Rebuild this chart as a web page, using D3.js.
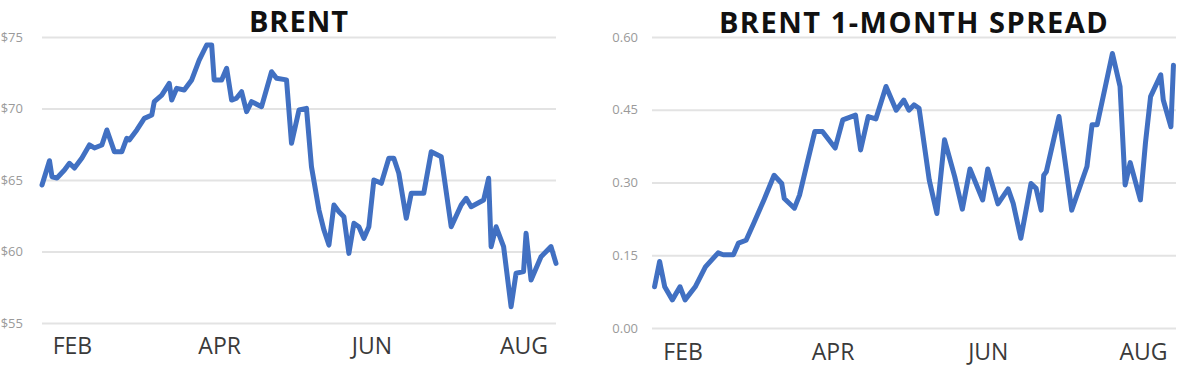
<!DOCTYPE html>
<html>
<head>
<meta charset="utf-8">
<script src="https://cdn.jsdelivr.net/npm/d3@7"></script>
<style>
  body { margin: 0; background: #fff; }
  svg { display: block; }
</style>
</head>
<body>
<div id="chart"></div>
<script>
// values, 2019 dates as "MM-DD"
const brentDates = [
  "01-20", "01-23", "01-24", "01-26", "01-29", "01-31", "02-02", "02-05", "02-08", "02-10",
  "02-13", "02-15", "02-18", "02-21", "02-23", "02-24", "02-27", "03-02", "03-05", "03-06",
  "03-09", "03-12", "03-13", "03-15", "03-18", "03-21", "03-24", "03-27", "03-29", "03-30",
  "04-02", "04-04", "04-06", "04-08", "04-10", "04-12", "04-14", "04-18", "04-22", "04-24",
  "04-28", "04-30", "05-03", "05-06", "05-08", "05-11", "05-13", "05-15", "05-17", "05-19",
  "05-21", "05-23", "05-25", "05-27", "05-29", "05-31", "06-02", "06-05", "06-08", "06-10",
  "06-12", "06-15", "06-17", "06-20", "06-22", "06-25", "06-29", "07-03", "07-07", "07-09",
  "07-11", "07-16", "07-18", "07-19", "07-21", "07-24", "07-27", "07-29", "08-01", "08-02",
  "08-04", "08-08", "08-12", "08-14",
];
const brentValues = [
  64.65, 66.35, 65.23, 65.14, 65.7, 66.17, 65.84, 66.54, 67.45, 67.24,
  67.45, 68.5, 66.98, 66.98, 67.92, 67.8, 68.5, 69.31, 69.54, 70.48,
  70.94, 71.76, 70.59, 71.41, 71.29, 72.0, 73.39, 74.44, 74.44, 72.0,
  72.0, 72.81, 70.59, 70.73, 71.17, 69.78, 70.48, 70.13, 72.57, 72.11,
  72.0, 67.57, 69.9, 70.01, 65.93, 62.9, 61.5, 60.45, 63.25, 62.78,
  62.43, 59.87, 61.97, 61.73, 60.92, 61.73, 65.0, 64.77, 66.52, 66.52,
  65.47, 62.32, 64.07, 64.07, 64.07, 66.98, 66.63, 61.73, 63.25, 63.72,
  63.13, 63.6, 65.12, 60.34, 61.73, 60.34, 56.14, 58.48, 58.59, 61.27,
  58.01, 59.64, 60.34, 59.17,
];
const brentTicks = [55, 60, 65, 70, 75];

const spreadDates = [
  "01-21", "01-23", "01-25", "01-28", "01-31", "02-02", "02-06", "02-10", "02-15", "02-17",
  "02-21", "02-23", "02-26", "03-01", "03-05", "03-09", "03-12", "03-13", "03-17", "03-19",
  "03-22", "03-25", "03-28", "04-02", "04-05", "04-10", "04-12", "04-15", "04-18", "04-22",
  "04-26", "04-29", "05-01", "05-03", "05-05", "05-09", "05-12", "05-15", "05-19", "05-22",
  "05-25", "05-30", "06-01", "06-05", "06-09", "06-11", "06-14", "06-18", "06-20", "06-22",
  "06-23", "06-24", "06-29", "07-04", "07-10", "07-12", "07-14", "07-20", "07-23", "07-25",
  "07-27", "07-31", "08-02", "08-04", "08-08", "08-09", "08-12", "08-13",
];
const spreadValues = [
  0.085, 0.137, 0.085, 0.058, 0.085, 0.058, 0.085, 0.126, 0.155, 0.151,
  0.151, 0.175, 0.181, 0.216, 0.264, 0.315, 0.298, 0.267, 0.247, 0.274,
  0.34, 0.405, 0.405, 0.371, 0.429, 0.439, 0.367, 0.436, 0.431, 0.498,
  0.449, 0.47, 0.449, 0.46, 0.453, 0.305, 0.236, 0.388, 0.312, 0.245,
  0.328, 0.264, 0.328, 0.256, 0.287, 0.257, 0.185, 0.298, 0.288, 0.243,
  0.315, 0.322, 0.436, 0.243, 0.333, 0.419, 0.419, 0.566, 0.498, 0.295,
  0.341, 0.264, 0.382, 0.477, 0.522, 0.47, 0.415, 0.542,
];
const spreadTicks = [0, 0.15, 0.3, 0.45, 0.6];

const monthTicks = ["02-01", "04-01", "06-01", "08-01"];
const xStart = "01-20";
const xEnd = "08-14";

const parseDay = d3.timeParse("%Y-%m-%d");
const day = (s) => parseDay(`2019-${s}`);

const width = 1200;
const height = 391;

const svg = d3
  .select("#chart")
  .append("svg")
  .attr("width", width)
  .attr("height", height)
  .attr("viewBox", [0, 0, width, height]);

function LineChart({
  title,
  dates,
  values,
  yTicks,
  yFormat,
  left,
  right,
  top,
  bottom,
  titleY,
  titleSpacing = 0,
  labelPad,
  monthPad,
} = {}) {
  const points = dates.map((d, i) => [day(d), values[i]]);

  const x = d3
    .scaleTime()
    .domain([day(xStart), day(xEnd)])
    .range([left, right]);

  const y = d3
    .scaleLinear()
    .domain(d3.extent(yTicks))
    .range([bottom, top]);

  const g = svg.append("g");

  // grid + y labels
  g.append("g")
    .attr("transform", `translate(${left},0)`)
    .call(
      d3
        .axisLeft(y)
        .tickValues(yTicks)
        .tickFormat(yFormat)
        .tickSize(-(right - left))
        .tickPadding(labelPad)
    )
    .call((a) => a.select(".domain").remove())
    .call((a) =>
      a.selectAll(".tick line").attr("stroke", "#e3e3e3").attr("stroke-width", 2)
    )
    .call((a) =>
      a
        .selectAll(".tick text")
        .attr("fill", "#9a9a9a")
        .style("font-family", "'Open Sans', sans-serif")
        .style("font-size", "13px")
    );

  // month labels
  g.append("g")
    .attr("transform", `translate(0,${bottom})`)
    .call(
      d3
        .axisBottom(x)
        .tickValues(monthTicks.map(day))
        .tickFormat((d) => d3.timeFormat("%b")(d).toUpperCase())
        .tickSize(0)
        .tickPadding(monthPad)
    )
    .call((a) => a.select(".domain").remove())
    .call((a) =>
      a
        .selectAll(".tick text")
        .attr("fill", "#3a3a3a")
        .style("font-family", "'Open Sans', sans-serif")
        .style("font-size", "23px")
    );

  const line = d3
    .line()
    .x((d) => x(d[0]))
    .y((d) => y(d[1]));

  g.append("path")
    .datum(points)
    .attr("d", line)
    .attr("fill", "none")
    .attr("stroke", "#4170c2")
    .attr("stroke-width", 5)
    .attr("stroke-linejoin", "round")
    .attr("stroke-linecap", "round");

  g.append("text")
    .attr("x", (left + right) / 2)
    .attr("y", titleY)
    .attr("text-anchor", "middle")
    .style("font-family", "'Open Sans', sans-serif")
    .style("font-weight", "bold")
    .style("font-size", "29px")
    .style("letter-spacing", `${titleSpacing}px`)
    .attr("fill", "#111")
    .text(title);

  return g;
}

LineChart({
  title: "BRENT",
  dates: brentDates,
  values: brentValues,
  yTicks: brentTicks,
  yFormat: d3.format("$.0f"),
  left: 42,
  right: 556,
  top: 37,
  bottom: 323,
  titleY: 32,
  titleSpacing: 1,
  labelPad: 19,
  monthPad: 15,
});

LineChart({
  title: "BRENT 1-MONTH SPREAD",
  dates: spreadDates,
  values: spreadValues,
  yTicks: spreadTicks,
  yFormat: d3.format(".2f"),
  left: 652,
  right: 1176,
  top: 37,
  bottom: 328,
  titleY: 33,
  titleSpacing: 1.5,
  labelPad: 14,
  monthPad: 16,
});
</script>
</body>
</html>
